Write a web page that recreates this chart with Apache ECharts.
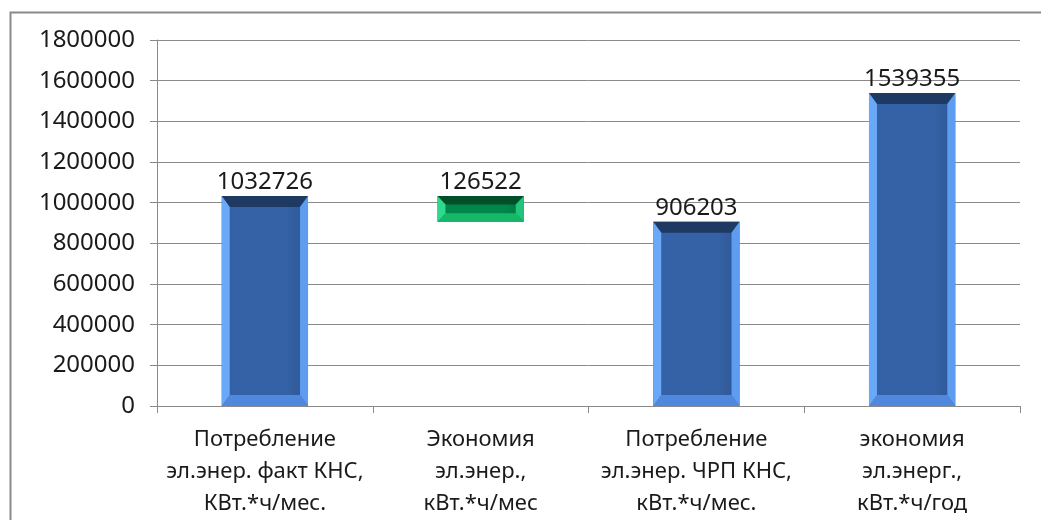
<!DOCTYPE html>
<html>
<head>
<meta charset="utf-8">
<script src="https://cdn.jsdelivr.net/npm/echarts@6/dist/echarts.min.js"></script>
<style>
  html, body { margin: 0; padding: 0; background: #ffffff; }
  #chart { width: 1041px; height: 520px; }
</style>
</head>
<body>
<div id="chart"></div>
<script>
// Electricity consumption and savings of the pumping station
const categories = [
  'Потребление\nэл.энер. факт КНС,\nКВт.*ч/мес.',
  'Экономия\nэл.энер.,\nкВт.*ч/мес',
  'Потребление\nэл.энер. ЧРП КНС,\nкВт.*ч/мес.',
  'экономия\nэл.энерг.,\nкВт.*ч/год'
];
const values = [1032726, 126522, 906203, 1539355];
// the monthly saving floats down from the actual consumption
const floating = [false, true, false, false];
const yTicks = { min: 0, max: 1800000, interval: 200000 };

const palettes = {
  blue: { face: '#3562a6', top: '#1f3a62', bottom: '#4f88dc', left: '#6aa8f8', right: '#5e9cf0', inner: '#2c5594' },
  green: { face: '#00884a', top: '#004f28', bottom: '#14b868', left: '#2fd98e', right: '#22c47c', inner: '#00763f' }
};

const seriesData = values.map((v, i) => {
  const top = floating[i] ? values[i - 1] : v;
  const base = top - v;
  return [i, base, top, v];
});

const FONT = '"Noto Sans", "Open Sans", sans-serif';

function renderBevelBar(params, api) {
  const idx = api.value(0);
  const pBase = api.coord([idx, api.value(1)]);
  const pTop = api.coord([idx, api.value(2)]);
  const w = api.size([1, 0])[0] * 0.4;
  const x0 = pTop[0] - w / 2, x1 = pTop[0] + w / 2;
  const y0 = pTop[1], y1 = pBase[1];
  const h = y1 - y0;
  const bx = Math.min(8, w / 4);
  const by = Math.min(11, h / 3);
  const pal = floating[idx] ? palettes.green : palettes.blue;
  const poly = (pts, fill) => ({ type: 'polygon', shape: { points: pts }, style: { fill: fill } });
  return {
    type: 'group',
    children: [
      { type: 'rect', shape: { x: x0, y: y0, width: w, height: h },
        style: { fill: new echarts.graphic.LinearGradient(0, 0, 1, 0, [
          { offset: 0, color: pal.face }, { offset: 0.75, color: pal.face }, { offset: 1, color: pal.inner }
        ]) } },
      poly([[x0, y0], [x1, y0], [x1 - bx, y0 + by], [x0 + bx, y0 + by]], pal.top),
      poly([[x0, y1], [x1, y1], [x1 - bx, y1 - by], [x0 + bx, y1 - by]], pal.bottom),
      poly([[x0, y0], [x0 + bx, y0 + by], [x0 + bx, y1 - by], [x0, y1]], pal.left),
      poly([[x1, y0], [x1 - bx, y0 + by], [x1 - bx, y1 - by], [x1, y1]], pal.right),
      { type: 'text', x: pTop[0], y: y0 - 2,
        style: { text: String(api.value(3)), textAlign: 'center', textVerticalAlign: 'bottom',
                 fill: '#1a1a1a', font: '24px ' + FONT } }
    ]
  };
}

const chart = echarts.init(document.getElementById('chart'), null, { renderer: 'canvas' });
chart.setOption({
  backgroundColor: '#ffffff',
  animation: false,
  graphic: [{
    type: 'rect', left: 8, top: 10, z: -10,
    shape: { width: 1100, height: 600 },
    style: { fill: 'none', stroke: '#8a8a8a', lineWidth: 2 }
  }],
  grid: { left: 157, right: 21, top: 40, bottom: 114, containLabel: false },
  xAxis: {
    type: 'category',
    data: categories,
    axisLine: { show: true, lineStyle: { color: '#8a8a8a', width: 1 } },
    axisTick: { show: true, length: 7, alignWithLabel: false, lineStyle: { color: '#8a8a8a' } },
    axisLabel: { color: '#1a1a1a', fontFamily: FONT, fontSize: 22, lineHeight: 32, margin: 18, interval: 0 }
  },
  yAxis: {
    type: 'value',
    min: yTicks.min, max: yTicks.max, interval: yTicks.interval,
    axisLine: { show: true, lineStyle: { color: '#8a8a8a', width: 1 } },
    axisTick: { show: true, length: 7, lineStyle: { color: '#8a8a8a' } },
    axisLabel: { color: '#1a1a1a', fontFamily: FONT, fontSize: 24, margin: 22,
                 formatter: (v) => String(v) },
    splitLine: { show: true, lineStyle: { color: '#8a8a8a', width: 1 } }
  },
  series: [{
    type: 'custom',
    renderItem: renderBevelBar,
    encode: { x: 0, y: [1, 2] },
    data: seriesData
  }]
});
</script>
</body>
</html>
